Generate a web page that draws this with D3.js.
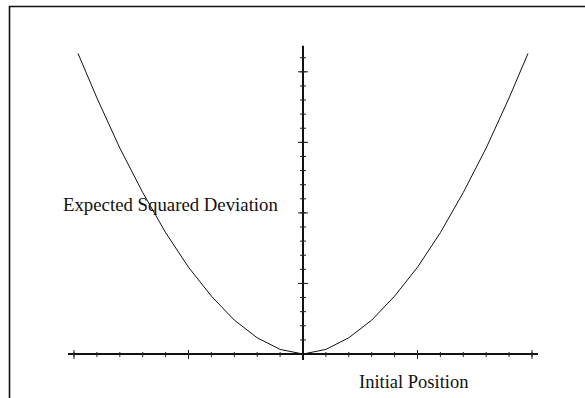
<!DOCTYPE html>
<html>
<head>
<meta charset="utf-8">
<script src="https://cdn.jsdelivr.net/npm/d3@7"></script>
<style>
  body { margin: 0; background: #fff; }
  text { font-family: "Liberation Serif", "Times New Roman", serif; fill: #111; }
</style>
</head>
<body>
<svg id="chart" width="585" height="398"></svg>
<script>
// curve vertices (initial position, expected squared deviation)
const positions = [-1.965, -1.8, -1.6, -1.4, -1.2, -1.0, -0.8, -0.6, -0.4, -0.2, 0,
  0.2, 0.4, 0.6, 0.8, 1.0, 1.2, 1.4, 1.6, 1.8, 1.965]
const deviations = [4.26, 3.63, 2.92, 2.29, 1.72, 1.23, 0.82, 0.48, 0.23, 0.065, 0,
  0.065, 0.23, 0.48, 0.82, 1.23, 1.72, 2.29, 2.92, 3.63, 4.26]

const xMajor = [-2, -1, 0, 1, 2]
const xMinor = d3.range(-2, 2.001, 0.2)
const yMajor = [1, 2, 3, 4]
const yMinor = d3.range(0.2, 4.37, 0.2)

const xLabel = 'Initial Position'
const yLabel = 'Expected Squared Deviation'

const svg = d3.select('#chart')

const x = d3.scaleLinear().domain([-2, 2]).range([74, 532])
const y = d3.scaleLinear().domain([0, 4.37]).range([354, 45.7])

// frame (top and left only)
svg.append('path')
  .attr('d', `M9.5,398 V6.5 H585`)
  .attr('fill', 'none')
  .attr('stroke', '#111')
  .attr('stroke-width', 1.6)

const data = positions.map((p, i) => ({ p: p, v: deviations[i] }))

const line = d3.line()
  .x(d => x(d.p))
  .y(d => y(d.v))

svg.append('path')
  .datum(data)
  .attr('d', line)
  .attr('fill', 'none')
  .attr('stroke', '#111')
  .attr('stroke-width', 1)

// x axis
svg.append('line')
  .attr('x1', x(-2) - 6).attr('x2', x(2) + 6)
  .attr('y1', y(0)).attr('y2', y(0))
  .attr('stroke', '#111').attr('stroke-width', 2)

svg.selectAll('.xminor')
  .data(xMinor)
  .enter().append('line')
  .attr('class', 'xminor')
  .attr('x1', d => x(d)).attr('x2', d => x(d))
  .attr('y1', y(0) - 2).attr('y2', y(0) + 3)
  .attr('stroke', '#222').attr('stroke-width', 1)

svg.selectAll('.xmajor')
  .data(xMajor)
  .enter().append('line')
  .attr('class', 'xmajor')
  .attr('x1', d => x(d)).attr('x2', d => x(d))
  .attr('y1', y(0) - 4).attr('y2', y(0) + 5)
  .attr('stroke', '#222').attr('stroke-width', 1)

// y axis
svg.append('line')
  .attr('x1', x(0)).attr('x2', x(0))
  .attr('y1', y(0) + 6).attr('y2', y(4.37))
  .attr('stroke', '#111').attr('stroke-width', 2)

svg.selectAll('.yminor')
  .data(yMinor)
  .enter().append('line')
  .attr('class', 'yminor')
  .attr('x1', x(0) - 3).attr('x2', x(0) + 3)
  .attr('y1', d => y(d)).attr('y2', d => y(d))
  .attr('stroke', '#222').attr('stroke-width', 1)

svg.selectAll('.ymajor')
  .data(yMajor)
  .enter().append('line')
  .attr('class', 'ymajor')
  .attr('x1', x(0) - 5).attr('x2', x(0) + 5)
  .attr('y1', d => y(d)).attr('y2', d => y(d))
  .attr('stroke', '#222').attr('stroke-width', 1)

// labels
svg.append('text')
  .attr('x', 63)
  .attr('y', 210.5)
  .style('font-size', '18.8px')
  .text(yLabel)

svg.append('text')
  .attr('x', 359)
  .attr('y', 388)
  .style('font-size', '18.5px')
  .text(xLabel)
</script>
</body>
</html>
